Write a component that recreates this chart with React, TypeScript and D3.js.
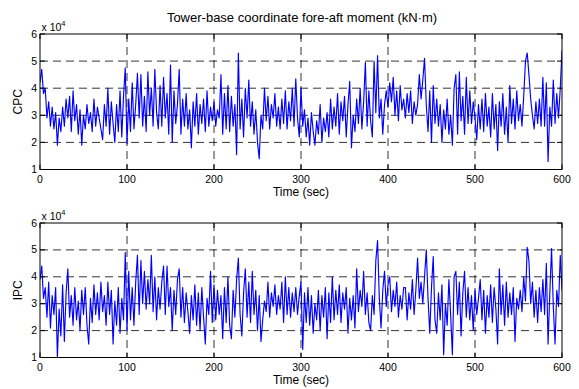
import React from "react";
import * as d3 from "d3";

const TITLE = "Tower-base coordinate fore-aft moment (kN·m)";
const X_LABEL = "Time (sec)";
const xTicks = [0, 100, 200, 300, 400, 500, 600];
const yTicks = [1, 2, 3, 4, 5, 6];
const SAMPLE_STEP = 2; // seconds between samples

// CPC series, units of 1e4 kN·m, one value every 2 s from t=0 to t=600
const cpc = [
  4.2, 4.7, 3.8, 4.0, 2.9, 3.5, 2.6, 3.3, 2.5, 3.1,
  1.9, 2.9, 2.4, 3.3, 2.6, 3.6, 2.9, 3.7, 2.4, 3.9,
  2.8, 3.4, 2.3, 3.2, 1.9, 3.0, 2.5, 3.4, 2.7, 3.1,
  2.4, 3.6, 2.6, 3.3, 2.9, 2.5, 2.1, 3.4, 2.6, 4.0,
  2.3, 3.5, 2.7, 2.0, 3.4, 2.4, 3.9, 2.2, 3.7, 4.75,
  1.95, 3.6, 2.4, 4.2, 2.5, 3.4, 4.55, 2.9, 4.5, 2.6,
  3.7, 2.4, 4.6, 3.0, 4.0, 2.6, 4.7, 3.1, 2.5, 4.1,
  2.6, 4.4, 2.9, 3.8, 2.3, 4.85, 2.0, 3.9, 2.7, 3.4,
  4.7, 2.3, 3.6, 2.6, 3.8, 2.5, 3.2, 1.8, 3.5, 2.6,
  3.8, 2.3, 3.4, 2.7, 3.6, 2.4, 3.9, 2.6, 3.3, 2.8,
  3.5, 2.6, 3.2, 2.9, 4.5, 2.3, 3.8, 2.5, 4.1, 2.4,
  3.7, 2.6, 3.4, 1.55, 5.3, 2.5, 3.6, 2.2, 4.0, 2.9,
  4.3, 2.6, 3.5, 2.3, 3.2, 2.0, 1.4, 3.0, 2.5, 4.0,
  2.8, 3.7, 2.5, 3.4, 2.9, 3.8, 2.6, 3.3, 2.5, 3.6,
  2.7, 3.9, 2.5, 3.5, 2.8, 4.0, 2.6, 4.35, 2.9, 2.2,
  4.0, 2.6, 3.2, 2.2, 2.9, 1.9, 3.1, 2.4, 1.9, 2.8,
  2.3, 3.4, 2.0, 2.9, 2.4, 3.1, 2.2, 3.6, 2.5, 3.3,
  2.6, 3.8, 2.3, 3.5, 2.8, 3.7, 2.2, 3.4, 4.25, 1.8,
  3.0, 2.4, 3.6, 2.7, 4.0, 2.5, 3.5, 4.95, 2.6, 3.9,
  2.8, 2.2, 5.0, 3.1, 5.2, 2.9, 3.6, 2.3, 3.4, 3.9,
  3.3, 4.2, 3.5, 4.4, 3.0, 3.9, 2.8, 4.1, 3.2, 3.6,
  2.9, 3.8, 3.1, 3.9, 2.7, 3.5, 3.0, 3.4, 4.5, 3.6,
  4.3, 5.1, 3.4, 2.4, 3.9, 2.0, 4.1, 2.7, 3.6, 2.6,
  3.4, 2.0, 3.2, 2.5, 3.6, 2.3, 3.0, 1.9, 4.0, 4.5,
  2.3, 4.6, 2.8, 3.7, 2.3, 4.4, 2.7, 3.9, 2.7, 3.5,
  2.9, 2.1, 3.4, 2.5, 3.6, 2.4, 3.8, 2.6, 3.3, 2.2,
  3.8, 2.5, 3.4, 1.7, 3.5, 2.6, 3.8, 2.3, 3.3, 2.0,
  4.1, 2.7, 3.6, 2.5, 3.9, 2.8, 3.4, 2.6, 3.7, 5.0,
  5.3, 4.5, 3.6, 3.0, 2.5, 3.5, 2.7, 3.6, 2.6, 4.4,
  2.6, 4.2, 1.3, 3.3, 2.6, 4.3, 2.7, 3.8, 2.9, 4.0,
  5.4,
];

// IPC series, units of 1e4 kN·m, one value every 2 s from t=0 to t=600
const ipc = [
  3.9, 4.4, 3.2, 3.6, 2.5, 3.8, 2.1, 3.3, 2.6, 3.6,
  1.0, 2.8, 1.8, 3.7, 1.6, 3.4, 4.3, 2.5, 3.3, 2.2,
  3.6, 2.4, 3.1, 2.0, 3.5, 2.6, 3.6, 2.2, 1.5, 3.2,
  2.3, 3.7, 2.6, 3.4, 2.4, 3.8, 2.7, 3.3, 2.2, 3.8,
  2.6, 3.5, 1.5, 3.1, 2.2, 3.6, 1.9, 3.2, 2.4, 4.9,
  2.0, 4.2, 2.4, 3.6, 2.2, 3.8, 4.8, 2.6, 4.6, 3.0,
  4.2, 2.8, 3.9, 3.0, 4.8, 2.7, 4.0, 2.4, 3.6, 2.8,
  3.8, 4.4, 2.6, 4.4, 2.9, 3.6, 2.0, 3.5, 2.6, 3.9,
  4.3, 2.5, 3.6, 2.3, 3.4, 2.7, 1.9, 3.3, 2.4, 3.7,
  2.2, 3.4, 2.0, 3.6, 2.5, 1.5, 3.2, 2.6, 4.2, 2.3,
  3.7, 2.4, 3.5, 2.6, 3.3, 1.7, 3.6, 2.3, 4.0, 2.2,
  1.7, 3.5, 2.5, 3.9, 4.7, 2.6, 1.8, 3.4, 4.3, 2.5,
  3.8, 2.3, 4.2, 2.6, 3.5, 2.0, 3.3, 1.6, 2.4, 3.1,
  2.7, 3.8, 2.5, 3.4, 2.9, 3.7, 2.6, 3.3, 2.8, 3.8,
  2.3, 4.0, 2.6, 3.6, 2.5, 3.4, 2.7, 3.6, 2.6, 3.3,
  3.8, 1.3, 3.4, 2.3, 3.6, 2.2, 3.3, 1.9, 3.0, 2.4,
  3.5, 2.0, 3.3, 2.5, 3.6, 1.7, 3.4, 2.3, 4.0, 2.4,
  3.5, 2.6, 3.7, 2.3, 3.4, 2.8, 3.6, 1.9, 3.2, 2.4,
  3.3, 2.1, 4.3, 2.7, 3.5, 2.9, 4.2, 2.6, 3.4, 2.3,
  2.0, 3.3, 2.6, 4.6, 5.35, 3.2, 2.1, 3.5, 4.2, 2.9,
  3.7, 4.0, 2.7, 3.5, 2.9, 3.8, 2.5, 3.3, 2.8, 3.6,
  3.6, 2.4, 3.4, 2.8, 3.9, 2.6, 3.5, 4.7, 3.2, 3.8,
  3.0, 4.0, 5.0, 3.2, 1.9, 3.6, 4.75, 2.4, 1.9, 3.4,
  2.4, 3.7, 1.1, 3.0, 2.2, 3.9, 2.6, 1.1, 4.0, 4.2,
  2.6, 3.8, 1.8, 3.4, 4.2, 2.5, 3.6, 2.4, 3.3, 2.0,
  3.5, 2.6, 3.2, 3.9, 2.4, 3.5, 1.9, 3.3, 2.5, 3.7,
  2.3, 3.6, 2.8, 1.5, 4.3, 2.6, 3.7, 2.2, 3.8, 2.5,
  3.4, 2.6, 3.6, 1.6, 3.2, 2.8, 3.5, 2.7, 4.0, 3.1,
  5.1, 4.6, 3.0, 3.8, 2.5, 3.5, 2.3, 3.6, 2.7, 3.9,
  2.6, 4.5, 1.5, 3.4, 5.05, 2.9, 1.5, 3.5, 2.9, 4.8,
  3.5,
];

const panels = [
  { label: "CPC", data: cpc, top: 34, bottom: 169.5 },
  { label: "IPC", data: ipc, top: 223, bottom: 357.5 },
];

const FONT = "'Liberation Sans', Arial, Helvetica, sans-serif";

export default function App() {
  const W = 579;
  const H = 389;
  const left = 40;
  const right = 562;
  const x = d3.scaleLinear().domain([0, 600]).range([left, right]);

  return (
    <div style={{ position: "fixed", left: 0, top: 0 }}>
      <svg width={W} height={H} style={{ display: "block", background: "#fff" }}>
        <rect x={0} y={0} width={W} height={H} fill="#fff" />
        <text x={302} y={22} fontFamily={FONT} fontSize={13} textAnchor="middle" fill="#000">
          {TITLE}
        </text>
        {panels.map((p, pi) => {
          const y = d3.scaleLinear().domain([1, 6]).range([p.bottom, p.top]);
          const line = d3
            .line<number>()
            .x((_, i) => x(i * SAMPLE_STEP))
            .y((d) => y(d));
          const clipId = `clip${pi}`;
          return (
            <g key={p.label}>
              <defs>
                <clipPath id={clipId}>
                  <rect x={left} y={p.top} width={right - left} height={p.bottom - p.top} />
                </clipPath>
              </defs>
              {xTicks.slice(1, -1).map((t) => (
                <line
                  key={"gx" + t}
                  x1={x(t)}
                  x2={x(t)}
                  y1={p.top}
                  y2={p.bottom}
                  stroke="#000"
                  strokeWidth={0.8}
                  strokeDasharray="8,5"
                />
              ))}
              {yTicks.slice(1, -1).map((t) => (
                <line
                  key={"gy" + t}
                  x1={left}
                  x2={right}
                  y1={y(t)}
                  y2={y(t)}
                  stroke="#000"
                  strokeWidth={0.8}
                  strokeDasharray="8,5"
                />
              ))}
              <path
                d={line(p.data) || ""}
                fill="none"
                stroke="#0000ff"
                strokeWidth={1.15}
                strokeLinejoin="round"
                clipPath={`url(#${clipId})`}
              />
              <rect
                x={left}
                y={p.top}
                width={right - left}
                height={p.bottom - p.top}
                fill="none"
                stroke="#000"
                strokeWidth={1}
              />
              {xTicks.map((t) => (
                <g key={"tx" + t}>
                  <line x1={x(t)} x2={x(t)} y1={p.bottom} y2={p.bottom - 5} stroke="#000" />
                  <line x1={x(t)} x2={x(t)} y1={p.top} y2={p.top + 5} stroke="#000" />
                  <text
                    x={x(t)}
                    y={p.bottom + 13.5}
                    fontFamily={FONT}
                    fontSize={10.5}
                    textAnchor="middle"
                    fill="#000"
                  >
                    {t}
                  </text>
                </g>
              ))}
              {yTicks.map((t) => (
                <g key={"ty" + t}>
                  <line x1={left} x2={left + 5} y1={y(t)} y2={y(t)} stroke="#000" />
                  <line x1={right} x2={right - 5} y1={y(t)} y2={y(t)} stroke="#000" />
                  <text
                    x={left - 3}
                    y={y(t) + 3.5}
                    fontFamily={FONT}
                    fontSize={10.5}
                    textAnchor="end"
                    fill="#000"
                  >
                    {t}
                  </text>
                </g>
              ))}
              <text x={left + 1.5} y={p.top - 3.5} fontFamily={FONT} fontSize={10.5} fill="#000">
                x 10
                <tspan fontSize={7.5} dy={-5}>
                  4
                </tspan>
              </text>
              <text
                x={x(300)}
                y={p.bottom + 26}
                fontFamily={FONT}
                fontSize={12}
                textAnchor="middle"
                fill="#000"
              >
                {X_LABEL}
              </text>
              <text
                transform={`translate(22,${(p.top + p.bottom) / 2}) rotate(-90)`}
                fontFamily={FONT}
                fontSize={12}
                textAnchor="middle"
                fill="#000"
              >
                {p.label}
              </text>
            </g>
          );
        })}
      </svg>
    </div>
  );
}
